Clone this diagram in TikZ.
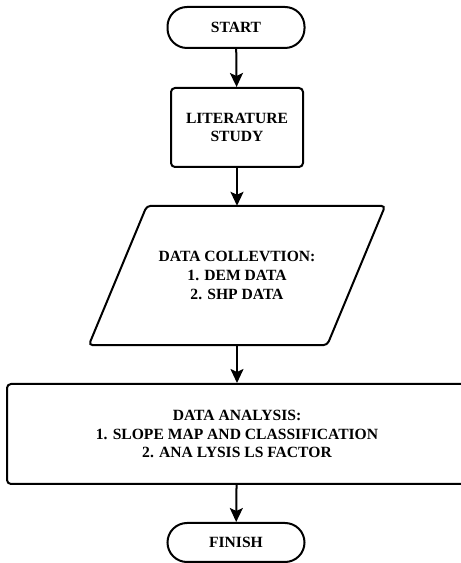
\documentclass[tikz,border=0pt]{standalone}
\usepackage{fontspec}
\setmainfont{Liberation Serif}
\usetikzlibrary{arrows.meta,calc}
\begin{document}
\begin{tikzpicture}[x=1pt,y=1pt,
  every node/.style={font=\fontsize{15.6}{18.6}\selectfont\bfseries, align=center, inner sep=0pt},
  term/.style={draw, line width=2pt, minimum width=137pt, rounded corners=19.5pt},
  procbox/.style={draw, line width=2pt, rounded corners=4pt},
  flow/.style={line width=2pt, -{Stealth[length=14pt,width=13pt,inset=3pt]}}]
\clip (0,0) rectangle (461,563);
\useasboundingbox (0,0) rectangle (461,563);
\node[term, minimum height=41pt] (start) at (236,535.5) {START};
\node[procbox, minimum width=132pt, minimum height=79pt] (lit) at (237,435.5) {LITERATURE\\STUDY};
\node[minimum width=238pt, minimum height=139pt] (data) at (237,287.5) {DATA COLLEVTION:\\1. DEM DATA\\2. SHP DATA};
\draw[line width=2pt, rounded corners=4pt]
  ($(data.north west)+(29,0)$) -- ($(data.north east)+(29,0)$) --
  ($(data.south east)+(-29,0)$) -- ($(data.south west)+(-29,0)$) -- cycle;
\node[procbox, minimum width=460pt, minimum height=100pt] (ana) at (237,129) {DATA ANALYSIS:\\1. SLOPE MAP AND CLASSIFICATION\\2. ANA LYSIS LS FACTOR};
\node[term, minimum height=39pt] (finish) at (236,20.5) {FINISH};
\draw[flow] (start) -- (lit);
\draw[flow] (lit) -- (data);
\draw[flow] (data) -- (ana);
\draw[flow] (ana) -- (finish);
\end{tikzpicture}
\end{document}
